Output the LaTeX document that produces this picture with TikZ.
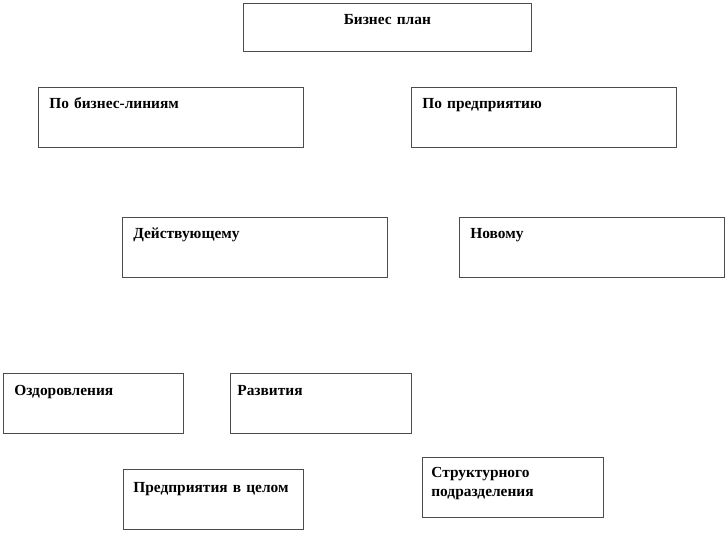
\documentclass[tikz,border=0pt]{standalone}
\usepackage{fontspec}
\setmainfont{Liberation Serif}
\tikzstyle{box} = [rectangle, draw=black!70, line width=0.7pt, anchor=north west, inner xsep=11pt, inner ysep=0pt, align=left, font=\fontsize{15.4}{19}\selectfont\bfseries, text height=21pt, text depth=39pt]
\tikzstyle{title} = [box, align=center, text width=266pt, text depth=27pt]
\tikzstyle{wide} = [box, text width=243pt]
\tikzstyle{narrow} = [box, text width=158pt, text height=22pt, text depth=38pt]
\begin{document}
\begin{tikzpicture}[x=1pt, y=-1pt]
    \useasboundingbox (0,0) rectangle (726,533);
    \node [title] at (243,3) (plan) {Бизнес план};
    \node [wide] at (38,87) (lines) {По бизнес-линиям};
    \node [wide] at (411,87) (firm) {По предприятию};
    \node [wide] at (122,217) (active) {Действующему};
    \node [wide] at (459,217) (new) {Новому};
    \node [narrow] at (3,373) (recovery) {Оздоровления};
    \node [narrow, inner xsep=7pt, text width=167pt] at (230,373) (growth) {Развития};
    \node [narrow, inner xsep=10pt, text width=160pt, text height=23pt, text depth=37pt] at (123,469) (whole) {Предприятия в целом};
    \node [narrow, inner xsep=9pt, text width=163pt, text height=20pt, text depth=40pt] at (422,457) (unit) {Структурного\\подразделения};
\end{tikzpicture}
\end{document}
